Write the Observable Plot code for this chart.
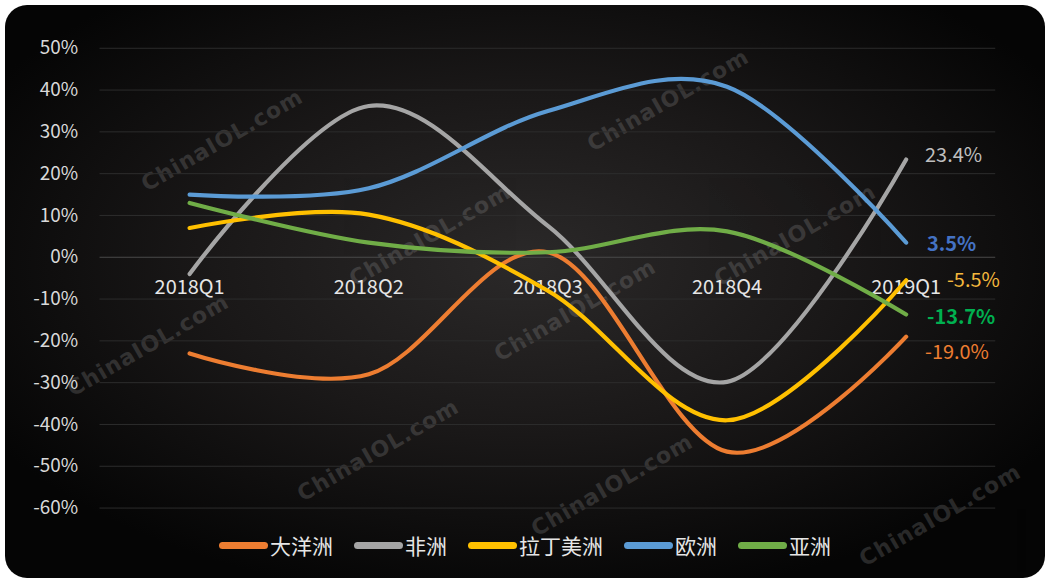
<!DOCTYPE html>
<html>
<head>
<meta charset="utf-8">
<script src="https://cdn.jsdelivr.net/npm/d3@7"></script>
<script src="https://cdn.jsdelivr.net/npm/@observablehq/plot@0.6"></script>
<style>
  html, body { margin: 0; padding: 0; background: #fff; width: 1050px; height: 584px; overflow: hidden; }
  #card {
    position: absolute; left: 5px; top: 5px; width: 1040px; height: 573px;
    border-radius: 22px; overflow: hidden;
    background: radial-gradient(ellipse 60% 60% at 50% 45%, #2b2929 0%, #1a1818 50%, #050505 100%);
    font-family: "Noto Sans CJK SC", "Noto Sans", sans-serif;
  }
  #chart { position: absolute; left: -5px; top: -5px; }
  #chart svg text { font-family: "Noto Sans CJK SC", "Noto Sans", sans-serif; }
  #legend {
    position: absolute; left: 0; width: 1040px; top: 525px;
    display: flex; justify-content: center; align-items: center;
    color: #e6e6e6; font-size: 21px; gap: 21px; padding-left: 0px;
  }
  .item { display: flex; align-items: center; }
  .sw { width: 49px; height: 7px; border-radius: 4px; margin-right: 2px; }
  .wm {
    position: absolute; color: #9a9a9a; opacity: 0.24; font-weight: bold; font-size: 22px;
    transform: translate(-50%, -50%) rotate(-30deg); white-space: nowrap; letter-spacing: 1px;
    font-family: "DejaVu Sans", sans-serif;
  }
</style>
</head>
<body>
<div id="card">
  <div id="wms"></div>
  <div id="chart"></div>
  <div id="legend"></div>
</div>
<script>
const quarters = ["2018Q1", "2018Q2", "2018Q3", "2018Q4", "2019Q1"];
const seriesNames = ["大洋洲", "非洲", "拉丁美洲", "欧洲", "亚洲"];
const seriesColors = ["#ED7D31", "#A5A5A5", "#FFC000", "#5B9BD5", "#70AD47"];
const oceania  = [-0.23, -0.28, 0.012, -0.465, -0.190];
const africa   = [-0.04, 0.362, 0.075, -0.298, 0.234];
const latinAm  = [0.07, 0.102, -0.08, -0.39, -0.055];
const europe   = [0.15, 0.165, 0.35, 0.408, 0.035];
const asia     = [0.13, 0.035, 0.012, 0.062, -0.137];
const yTicks = [0.5, 0.4, 0.3, 0.2, 0.1, 0, -0.1, -0.2, -0.3, -0.4, -0.5, -0.6];
const endLabelColors = ["#ED7D31", "#BFBFBF", "#F5B83D", "#4472C4", "#00B050"];
const endLabelWeights = ["normal", "normal", "normal", "bold", "bold"];
const watermark = "ChinaIOL.com";

const hy = f => v => f(v).replace("\u2212", "-");
const pct0 = hy(d3.format(".0%"));
const pct1 = hy(d3.format(".1%"));

const seriesValues = [oceania, africa, latinAm, europe, asia];
const rows = seriesNames.flatMap((name, i) =>
  quarters.map((q, j) => ({ series: name, quarter: q, value: seriesValues[i][j] })));
const lastRows = seriesNames.map((name, i) => ({
  series: name, quarter: quarters[quarters.length - 1],
  value: seriesValues[i][quarters.length - 1],
  label: pct1(seriesValues[i][quarters.length - 1]),
  color: endLabelColors[i], weight: endLabelWeights[i]
}));
const labelOffsets = { "大洋洲": [19, 16], "非洲": [19, -4], "拉丁美洲": [41, 0], "欧洲": [21, 2], "亚洲": [21, 3] };
const FONT = "'Noto Sans CJK SC', 'Noto Sans', sans-serif";

const plot = Plot.plot({
  width: 1050,
  height: 530,
  marginLeft: 100,
  marginRight: 50,
  marginTop: 48,
  marginBottom: 20,
  style: { background: "transparent", fontFamily: FONT, overflow: "visible" },
  x: { type: "point", domain: quarters, padding: 0.5, axis: null },
  y: { domain: [-0.6, 0.5], axis: null },
  color: { domain: seriesNames, range: seriesColors },
  marks: [
    Plot.ruleY(yTicks, { stroke: d => d === 0 ? "#4a4a4a" : "#2c2c2c", strokeWidth: 1 }),
    Plot.axisY({ ticks: yTicks, tickFormat: pct0, tickSize: 0, tickPadding: 22, fontSize: 19, fill: "#d9d9d9", label: null }),
    Plot.text(quarters, { x: d => d, y: () => 0, dy: 31, text: d => d, fill: "#e6e6e6", fontSize: 20, fontFamily: FONT }),
    Plot.line(rows, { x: "quarter", y: "value", z: "series", stroke: "series", strokeWidth: 4.2, curve: "cardinal", strokeLinecap: "round" }),
    ...lastRows.map(r => Plot.text([r], {
      x: "quarter", y: "value", text: "label", fill: r.color, fontWeight: r.weight, fontFamily: FONT,
      fontSize: 20, textAnchor: "start", dx: labelOffsets[r.series][0], dy: labelOffsets[r.series][1]
    }))
  ]
});
document.getElementById("chart").appendChild(plot);

const legend = document.getElementById("legend");
seriesNames.forEach((n, i) => {
  const it = document.createElement("div"); it.className = "item";
  const sw = document.createElement("div"); sw.className = "sw"; sw.style.background = seriesColors[i];
  const tx = document.createElement("span"); tx.textContent = n;
  it.appendChild(sw); it.appendChild(tx); legend.appendChild(it);
});

const wmSpots = [[222,140],[668,100],[430,235],[795,235],[148,345],[575,310],[378,450],[612,485],[940,515]];
const wms = document.getElementById("wms");
wmSpots.forEach(([x, y]) => {
  const d = document.createElement("div"); d.className = "wm"; d.textContent = watermark;
  d.style.left = (x - 5) + "px"; d.style.top = (y - 5) + "px"; wms.appendChild(d);
});
</script>
</body>
</html>
